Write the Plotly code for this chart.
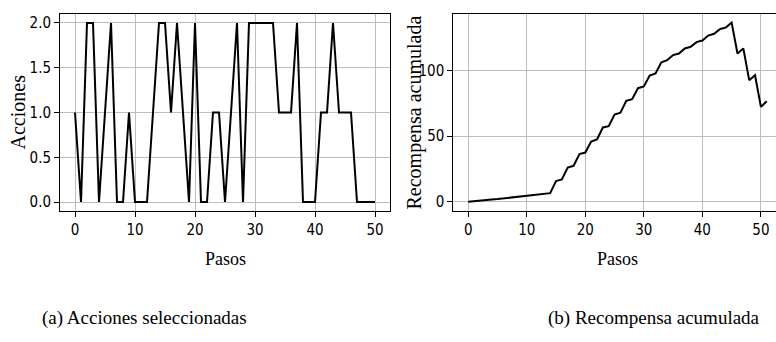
import plotly.graph_objects as go

pasos_a = list(range(51))
acciones = [1, 0, 2, 2, 0, 1, 2, 0, 0, 1,
            0, 0, 0, 1, 2, 2, 1, 2, 1, 0,
            2, 0, 0, 1, 1, 0, 1, 2, 0, 2,
            2, 2, 2, 2, 1, 1, 1, 2, 0, 0,
            0, 1, 1, 2, 1, 1, 1, 0, 0, 0, 0]

pasos_b = list(range(52))
recompensa = [0, 0.3, 0.8, 1.2, 1.7, 2.1, 2.6, 3.0, 3.5, 3.9, 4.4, 4.8, 5.3, 5.7, 6.6,
              15.8, 17.0, 26.0, 27.4, 36.3, 37.5,
              45.9, 47.5, 56.6, 57.6, 66.5, 67.8, 76.9, 78.2, 86.5, 87.8,
              96.2, 97.7, 106.3, 107.9, 111.7, 112.9, 116.8, 118.0, 121.6, 122.8,
              126.6, 127.9, 131.5, 132.7, 136.5, 112.9, 116.8, 92.6, 96.4, 72.3,
              76.6]

ticks_a_y = [0, 0.5, 1.0, 1.5, 2.0]
ticks_b_y = [0, 50, 100]
ticks_x = [0, 10, 20, 30, 40, 50]

W, H = 776, 342
tickfont = dict(family="DejaVu Sans Condensed, DejaVu Sans", size=15, color="black")
serif = "Liberation Serif, Times New Roman, serif"

fig = go.Figure()
fig.add_trace(go.Scatter(x=pasos_a, y=acciones, mode="lines",
                         line=dict(color="black", width=2), xaxis="x", yaxis="y",
                         showlegend=False, hoverinfo="skip"))
fig.add_trace(go.Scatter(x=pasos_b, y=recompensa, mode="lines",
                         line=dict(color="black", width=2), xaxis="x2", yaxis="y2",
                         showlegend=False, hoverinfo="skip"))

axis_common = dict(showgrid=True, gridcolor="#bdbdbd", gridwidth=1, zeroline=False,
                   showline=True, linecolor="black", linewidth=1,
                   ticks="outside", ticklen=5, tickcolor="black", tickwidth=1,
                   tickfont=tickfont)

y_dom = [1 - 211 / H, 1 - 14 / H]
fig.update_layout(
    width=W, height=H, margin=dict(l=0, r=0, t=0, b=0),
    paper_bgcolor="white", plot_bgcolor="white",
    xaxis=dict(domain=[60 / W, 390 / W], range=[-2.5, 52.5], tickvals=ticks_x,
               mirror=True, anchor="y", **axis_common),
    yaxis=dict(domain=y_dom, range=[-0.1, 2.1], tickvals=ticks_a_y, tickformat=".1f",
               mirror=True, anchor="x", **axis_common),
    xaxis2=dict(domain=[453.3 / W, 1.0], range=[-2.55, 52.58], tickvals=ticks_x,
                mirror=True, anchor="y2", **axis_common),
    yaxis2=dict(domain=y_dom, range=[-7.0, 143.0], tickvals=ticks_b_y,
                mirror=False, anchor="x2", **axis_common),
)

ann = [
    dict(text="Pasos", x=225 / W, y=1 - 259 / H, font=dict(family=serif, size=18, color="black")),
    dict(text="Pasos", x=617.5 / W, y=1 - 259 / H, font=dict(family=serif, size=18, color="black")),
    dict(text="Acciones", x=17.5 / W, y=1 - 112 / H, textangle=-90,
         font=dict(family=serif, size=20, color="black")),
    dict(text="Recompensa acumulada", x=414 / W, y=1 - 112.5 / H, textangle=-90,
         font=dict(family=serif, size=20, color="black")),
    dict(text="(a) Acciones seleccionadas", x=40 / W, y=1 - 318 / H, xanchor="left",
         font=dict(family=serif, size=19, color="black")),
    dict(text="(b) Recompensa acumulada", x=762 / W, y=1 - 318 / H, xanchor="right",
         font=dict(family=serif, size=19, color="black")),
]
for a in ann:
    a.setdefault("xanchor", "center")
    a.update(xref="paper", yref="paper", yanchor="middle", showarrow=False)
    fig.add_annotation(**a)

fig.write_html("out.html", config={"displayModeBar": False},
               post_script="document.body.style.margin='0';document.body.style.overflow='hidden';")
